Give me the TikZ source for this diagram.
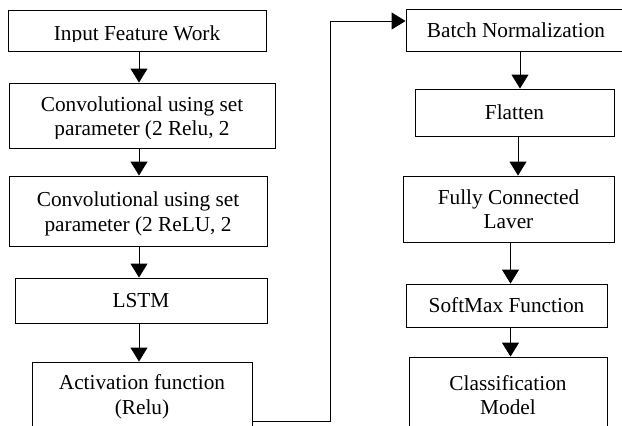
\documentclass[tikz,border=0pt]{standalone}
\usepackage{fontspec}
\setmainfont{Liberation Serif}
\usetikzlibrary{arrows.meta}
\begin{document}
\begin{tikzpicture}[x=1pt, y=-1pt,
  box/.style={draw, line width=0.9pt, inner sep=0pt, align=center,
    font=\fontsize{21.3}{24.5}\selectfont},
  txt/.style={inner sep=0pt, font=\fontsize{21.3}{24.5}\selectfont},
  arr/.style={line width=0.9pt, -{Triangle[length=14pt,width=17pt]}},
  link/.style={line width=0.9pt}]
\useasboundingbox (0,0) rectangle (622,426);
\clip (0,0) rectangle (622,426);
\fill[white] (0,0) rectangle (622,426);

% left column
\node[box, minimum width=258, minimum height=41] (in) at (137,30.5) {};
\node[box, minimum width=266, minimum height=65] (c1) at (142,115.5) {};
\node[box, minimum width=258, minimum height=70] (c2) at (138,211) {};
\node[box, minimum width=252, minimum height=45] (lstm) at (141,300.5) {\raisebox{-2pt}{LSTM}};
\node[box, minimum width=220, minimum height=70] (act) at (142,397) {Activation function\\(Relu)};

% text of the first three boxes, cut off at the bottom
\begin{scope}
  \clip (in.north west) rectangle (in.east |- 0,41.2);
  \node[txt, anchor=base] (tin) at (137,40.7) {Input Feature Work};
\end{scope}
\begin{scope}
  \clip (c1.north west) rectangle (c1.east |- 0,138.7);
  \node[txt, anchor=base] (tc1a) at (142,111.3) {Convolutional using set};
  \node[txt, anchor=base] (tc1b) at (142,135.3) {parameter (2 Relu, 2};
\end{scope}
\begin{scope}
  \clip (c2.north west) rectangle (c2.east |- 0,238);
  \node[txt, anchor=base] (tc2a) at (138,206.7) {Convolutional using set};
  \node[txt, anchor=base] (tc2b) at (138,231.7) {parameter (2 ReLU, 2};
\end{scope}

% right column
\node[box, minimum width=220, minimum height=42] (bn) at (516,30) {Batch Normalization};
\node[box, minimum width=199, minimum height=47] (fl) at (514.5,112.5) {Flatten};
\node[box, minimum width=211, minimum height=66] (fc) at (508.5,209) {Fully Connected\\Laver};
\node[box, minimum width=201, minimum height=43] (sm) at (506.5,305.5) {SoftMax Function};
\node[box, minimum width=198, minimum height=76] (cl) at (508,395) {Classification\\Model};

% arrow columns
\coordinate (xl) at (139,0);
\coordinate (x1) at (520,0);
\coordinate (x2) at (518,0);
\coordinate (x3) at (510.5,0);
\coordinate (low) at (0,421.5);
\coordinate (up) at (0,21);
\coordinate (bend) at (330.5,0);

\draw[arr] (in.south -| xl) -- (c1.north -| xl);
\draw[arr] (c1.south -| xl) -- (c2.north -| xl);
\draw[arr] (c2.south -| xl) -- (lstm.north -| xl);
\draw[arr] (lstm.south -| xl) -- (act.north -| xl);

\draw[arr] (act.east |- low) -- (bend |- low) -- (bend |- up) -- (bn.west |- up);

\draw[arr] (bn.south -| x1) -- (fl.north -| x1);
\draw[arr] (fl.south -| x2) -- (fc.north -| x2);
\draw[arr] (fc.south -| x3) -- (sm.north -| x3);
\draw[arr] (sm.south -| x3) -- (cl.north -| x3);
\end{tikzpicture}
\end{document}
